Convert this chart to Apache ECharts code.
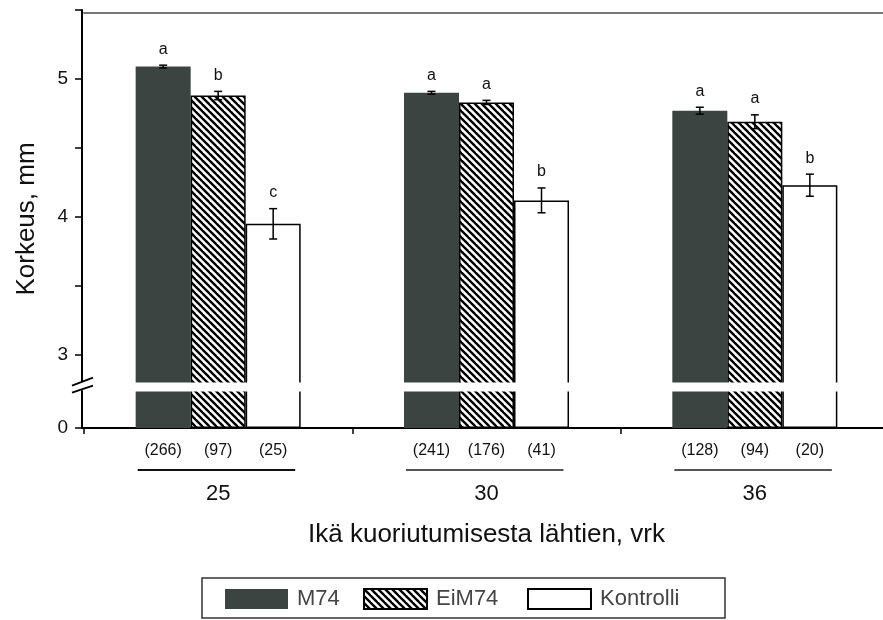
<!DOCTYPE html>
<html><head><meta charset="utf-8">
<script src="https://cdn.jsdelivr.net/npm/echarts@6.0.0/dist/echarts.min.js"></script>
<style>html,body{margin:0;padding:0;background:#fff;overflow:hidden}#c{width:891px;height:620px}</style>
</head><body><div id="c"></div>
<script>
// ---- data ----
const categories = ['25', '30', '36'];
const seriesNames = ['M74', 'EiM74', 'Kontrolli'];
const m74 = [5.09, 4.90, 4.77];
const eim74 = [4.88, 4.83, 4.69];
const kontrolli = [3.95, 4.12, 4.23];
const m74Err = [0.01, 0.01, 0.025];
const eim74Err = [0.03, 0.015, 0.05];
const kontrolliErr = [0.11, 0.09, 0.08];
const m74Letters = ['a', 'a', 'a'];
const eim74Letters = ['b', 'a', 'a'];
const kontrolliLetters = ['c', 'b', 'b'];
const m74N = [266, 241, 128];
const eim74N = [97, 176, 94];
const kontrolliN = [25, 41, 20];
const yTickLabels = [0, 3, 4, 5];
const yTicks = [0, 3, 3.5, 4, 4.5, 5, 5.5];
const yBreak = { start: 0.27, end: 2.8 };

const values = [m74, eim74, kontrolli];
const errs = [m74Err, eim74Err, kontrolliErr];
const letters = [m74Letters, eim74Letters, kontrolliLetters];
const counts = [m74N, eim74N, kontrolliN];

// hatch pattern
const tile = document.createElement('canvas');
const S = 7;
tile.width = S; tile.height = S;
const g = tile.getContext('2d');
g.fillStyle = '#fff'; g.fillRect(0, 0, S, S);
g.strokeStyle = '#000'; g.lineWidth = 2.4;
for (const k of [-1, 0, 1]) {
  g.beginPath(); g.moveTo(k * S - 1, -1); g.lineTo(k * S + S + 1, S + 1); g.stroke();
}
const hatch = { image: tile, repeat: 'repeat' };

const FONT = '"Liberation Sans", Arial, sans-serif';
const CAT_GAP = 0.385;
const Y_OFFSET = 2;
const fills = [
  { color: '#3c4442', borderWidth: 0 },
  { color: hatch, borderColor: '#000', borderWidth: 1.5 },
  { color: '#fff', borderColor: '#000', borderWidth: 1.5 }
];

const chart = echarts.init(document.getElementById('c'), null, { renderer: 'canvas' });

const series = [];
seriesNames.forEach((name, k) => {
  series.push({
    name, type: 'bar', data: values[k], barGap: 0, barCategoryGap: (CAT_GAP * 100) + '%',
    itemStyle: fills[k],
    label: {
      show: true, position: 'bottom', distance: 15,
      formatter: p => '(' + counts[k][p.dataIndex] + ')',
      fontFamily: FONT, fontSize: 16, color: '#111'
    },
    emphasis: { disabled: true }, z: 2
  });
});
seriesNames.forEach((name, k) => {
  series.push({
    type: 'custom', name: name + '_err', clip: false, z: 5, silent: true,
    data: values[k].map((v, i) => [i, v, errs[k][i]]),
    renderItem: (params, api) => {
      const i = api.value(0), v = api.value(1), e = api.value(2);
      const c = api.coord([i, v]);
      const band = api.size([1, 0])[0];
      const bw = band * (1 - CAT_GAP) / 3;
      const x = c[0] + (k - 1) * bw;
      const yt = api.coord([i, v + e])[1];
      const yb = api.coord([i, v - e])[1];
      const st = { stroke: '#000', lineWidth: 1.5 };
      return {
        type: 'group', children: [
          { type: 'line', shape: { x1: x, y1: yt, x2: x, y2: yb }, style: st },
          { type: 'line', shape: { x1: x - 4, y1: yt, x2: x + 4, y2: yt }, style: st },
          { type: 'line', shape: { x1: x - 4, y1: yb, x2: x + 4, y2: yb }, style: st },
          { type: 'text', style: { x: x, y: yt - 8, text: letters[k][params.dataIndex], align: 'center', verticalAlign: 'bottom', font: '16px ' + FONT, fill: '#111' } }
        ]
      };
    }
  });
});
// underline below count labels
series.push({
  type: 'custom', name: 'underline', clip: false, silent: true, z: 5,
  data: categories.map((c, i) => [i, 0]),
  renderItem: (params, api) => {
    const p = api.coord([api.value(0), 0]);
    const band = api.size([1, 0])[0];
    return {
      type: 'line',
      shape: { x1: p[0] - band * 0.3, y1: p[1] + 42, x2: p[0] + band * 0.287, y2: p[1] + 42 },
      style: { stroke: params.dataIndex === 0 ? '#111' : '#555', lineWidth: 2 }
    };
  }
});

const legendBase = (name, left) => ({
  data: [name], left: left, top: 588, padding: 0, itemWidth: 63, itemHeight: 20,
  icon: 'rect', selectedMode: false,
  textStyle: { fontFamily: FONT, fontSize: 22, color: '#444', padding: [0, 0, 0, 4] }
});

chart.setOption({
  animation: false,
  backgroundColor: '#fff',
  grid: { left: 84, right: 2, top: 10, bottom: 192, containLabel: false },
  legend: [legendBase('M74', 225), legendBase('EiM74', 363), legendBase('Kontrolli', 527)],
  xAxis: [{
    type: 'category', data: categories,
    axisLine: { lineStyle: { color: '#000', width: 2 } },
    axisTick: { show: true, length: 6, lineStyle: { color: '#000', width: 1.5 } },
    axisLabel: { margin: 55, fontFamily: FONT, fontSize: 22, color: '#111' },
    name: 'Ikä kuoriutumisesta lähtien, vrk', nameLocation: 'middle', nameGap: 94,
    nameTextStyle: { fontFamily: FONT, fontSize: 26, color: '#111' }
  }, {
    type: 'category', data: categories, position: 'top', offset: -3,
    axisLine: { show: true, lineStyle: { color: '#777', width: 2 } },
    axisTick: { show: false }, axisLabel: { show: false }
  }],
  yAxis: {
    type: 'value', min: 0, max: 5.5, offset: Y_OFFSET,
    breaks: [{ start: yBreak.start, end: yBreak.end, gap: 0.06 }],
    breakArea: {
      show: true, expandOnClick: false, zigzagAmplitude: 0,
      itemStyle: { color: '#fff', borderColor: '#fff', borderWidth: 0, opacity: 1 }
    },
    axisLine: { show: true, lineStyle: { color: '#000', width: 2 } },
    axisTick: { show: true, length: 7, customValues: yTicks, lineStyle: { color: '#000', width: 1.5 } },
    splitLine: { show: false },
    axisLabel: {
      margin: 14, fontFamily: FONT, fontSize: 19, color: '#111',
      customValues: yTickLabels,
      formatter: v => String(v)
    },
    name: 'Korkeus, mm', nameLocation: 'middle', nameRotate: 90, nameGap: 42,
    nameTextStyle: { fontFamily: FONT, fontSize: 26, color: '#111' }
  },
  series
});

// axis break marks "//"
const ax = chart.convertToPixel({ xAxisIndex: 0 }, 0) - chart.getModel().getComponent('xAxis', 0).axis.getBandWidth() / 2 - Y_OFFSET;
const yS = chart.convertToPixel({ yAxisIndex: 0 }, yBreak.start);
const yE = chart.convertToPixel({ yAxisIndex: 0 }, yBreak.end);
const mid = (yS + yE) / 2;
const x0 = isFinite(ax) ? ax : 82;
chart.setOption({
  graphic: [
    { type: 'rect', shape: { x: 202, y: 578, width: 523, height: 40 }, style: { fill: 'none', stroke: '#333', lineWidth: 1.5 }, silent: true },
    { type: 'line', shape: { x1: Y_OFFSET + 82 - 2, y1: 428, x2: 84, y2: 428 }, style: { stroke: '#000', lineWidth: 2 }, silent: true },
    { type: 'polygon', shape: { points: [[x0 - 10, mid - 1], [x0 + 11, mid - 9], [x0 + 11, mid - 1], [x0 - 10, mid + 6]] }, style: { fill: '#fff' }, silent: true, z: 100 },
    { type: 'line', shape: { x1: x0 - 10, y1: mid - 1, x2: x0 + 11, y2: mid - 9 }, style: { stroke: '#000', lineWidth: 1.8 }, silent: true, z: 101 },
    { type: 'line', shape: { x1: x0 - 10, y1: mid + 6, x2: x0 + 11, y2: mid - 1 }, style: { stroke: '#000', lineWidth: 1.8 }, silent: true, z: 101 }
  ]
});
</script></body></html>
